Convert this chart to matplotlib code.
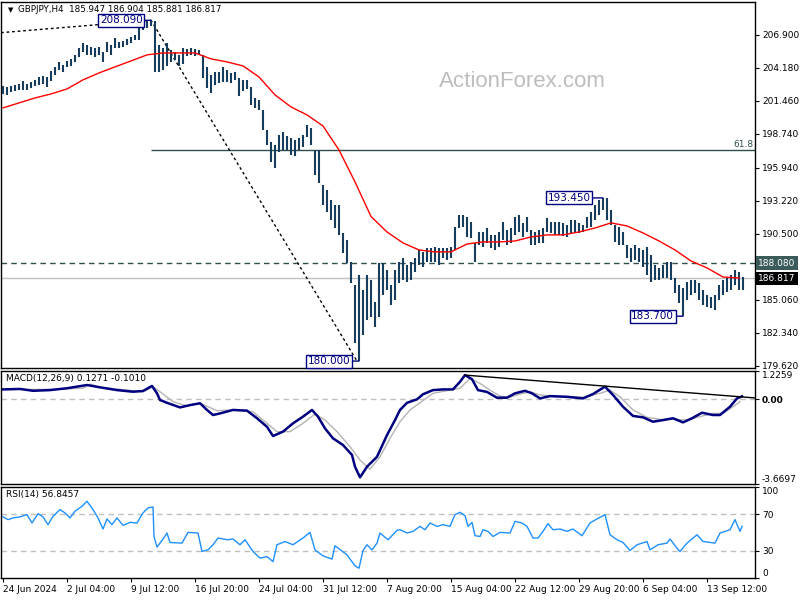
import numpy as np
import matplotlib.pyplot as plt
from matplotlib.transforms import blended_transform_factory

plt.rcParams['font.family'] = ['DejaVu Sans']

# H4 bars, every second bar (high / low)
highs = [202.68, 202.60, 202.68, 202.76, 202.85, 203.09, 202.85, 203.01, 203.18, 203.42,
         203.50, 203.42, 203.92, 204.25, 204.66, 204.41, 204.74, 204.91, 205.24, 205.81,
         206.22, 206.06, 205.90, 205.81, 205.90, 205.48, 206.31, 206.06, 206.64, 206.31,
         206.39, 206.55, 206.72, 206.88, 207.87, 207.96, 208.04, 208.09, 208.04, 206.06,
         205.81, 206.22, 205.65, 205.48, 205.24, 205.81, 205.73, 205.81, 205.73, 205.65,
         205.24, 204.25, 203.59, 203.83, 203.83, 204.25, 204.00, 203.75, 203.83, 203.34,
         203.18, 203.18, 202.60, 201.69, 201.53, 200.70, 199.05, 198.06, 197.82, 198.64,
         198.89, 198.56, 198.39, 198.23, 198.39, 198.64, 199.47, 199.22, 197.40, 197.40,
         194.52, 194.11, 193.28, 192.87, 192.87, 190.56, 189.98, 188.17, 186.27, 187.10,
         185.86, 187.10, 186.69, 184.87, 188.09, 188.09, 187.51, 186.27, 187.51, 188.17,
         188.50, 187.92, 188.17, 188.50, 189.16, 189.00, 189.33, 189.33, 189.41, 189.33,
         189.33, 189.33, 189.41, 191.06, 192.05, 192.05, 191.88, 191.47, 189.74, 190.64,
         190.64, 190.97, 190.40, 190.40, 190.64, 191.47, 190.81, 190.97, 191.88, 192.05,
         191.39, 191.88, 190.81, 190.64, 190.81, 190.97, 191.80, 191.47, 191.47, 191.47,
         191.39, 191.22, 191.63, 191.63, 191.39, 191.22, 191.88, 192.29, 192.87, 193.28,
         193.45, 193.45, 192.46, 191.22, 191.06, 190.64, 189.57, 189.33, 189.57, 189.33,
         189.16, 189.41, 188.75, 187.92, 187.68, 187.92, 188.17, 188.17, 186.85, 186.27,
         186.03, 186.52, 186.69, 186.69, 186.44, 185.86, 185.45, 185.29, 185.45, 186.27,
         186.69, 186.85, 187.10, 187.51, 187.35, 186.90]
lows = [202.02, 201.94, 202.19, 202.27, 202.35, 202.35, 202.35, 202.52, 202.68, 202.76,
        202.85, 202.60, 203.09, 203.59, 204.00, 203.83, 204.25, 204.33, 204.66, 205.07,
        205.48, 205.24, 205.24, 205.07, 205.24, 204.66, 205.48, 205.24, 205.81, 205.81,
        205.90, 206.06, 206.22, 206.47, 206.47, 207.30, 207.46, 207.63, 203.83, 203.83,
        204.00, 204.33, 204.66, 204.82, 204.33, 204.49, 205.15, 205.24, 205.15, 205.24,
        203.34, 202.52, 202.10, 202.76, 202.93, 203.01, 203.01, 202.93, 203.18, 201.86,
        202.27, 202.43, 201.11, 200.87, 200.70, 199.05, 197.82, 196.41, 195.92, 197.24,
        197.40, 197.40, 196.99, 196.91, 197.40, 197.65, 198.48, 197.82, 195.34, 194.68,
        192.87, 192.29, 191.63, 190.97, 190.40, 188.91, 188.09, 186.44, 181.49, 180.00,
        182.15, 183.39, 183.64, 182.81, 183.64, 185.45, 185.86, 184.63, 185.04, 186.44,
        186.69, 186.52, 186.69, 187.35, 187.92, 187.76, 188.17, 188.17, 188.17, 187.92,
        188.50, 188.34, 188.50, 189.16, 190.97, 191.06, 190.23, 190.15, 188.17, 189.57,
        189.41, 189.74, 189.33, 189.16, 189.41, 189.98, 189.57, 189.74, 190.40, 190.64,
        190.23, 190.64, 189.57, 189.57, 189.74, 189.74, 190.64, 190.56, 190.40, 190.40,
        190.31, 190.23, 190.56, 190.56, 190.56, 190.64, 190.97, 191.06, 191.63, 192.05,
        192.46, 191.63, 191.22, 189.82, 189.57, 189.57, 188.50, 188.17, 188.34, 188.17,
        187.76, 187.10, 186.52, 186.69, 186.69, 186.85, 186.85, 186.69, 185.61, 184.79,
        183.70, 185.04, 185.45, 185.61, 185.04, 184.63, 184.46, 184.38, 184.21, 185.04,
        185.45, 185.70, 185.86, 186.27, 185.86, 185.88]

# moving average, one value every 8 bars
ma = [200.87, 201.28, 201.69, 202.02, 202.43, 203.18, 203.75, 204.25, 204.74, 205.24,
      205.40, 205.40, 205.40, 204.91, 204.66, 204.33, 203.42, 201.94, 200.95, 200.29,
      199.38, 197.40, 194.77, 191.92, 190.64, 189.74, 189.16, 189.00, 189.00, 189.65,
      189.82, 189.82, 189.90, 190.23, 190.40, 190.40, 190.64, 190.97, 191.39, 191.14,
      190.56, 189.90, 189.16, 188.25, 187.68, 186.93, 186.85]

# swing points used for the dotted lines and the fibo level
swing_bars = [-1, 74, 177]
swing_prices = [207.07, 208.09, 180.00]
label_bars = [74, 178, 300, 340]
label_prices = [208.09, 180.00, 193.45, 183.70]
label_offsets = [-6, -6.5, -9, -6.5]
level_line = 188.08
last_price = 186.817

macd_bars = [0, 8.5, 15, 23.5, 32, 42, 48.5, 57, 65, 70, 74.5, 77, 78.5, 82, 88.5, 93.5, 98.5,
             102, 105, 108.5, 115, 122, 127, 132, 135, 140, 145, 150, 154.5, 157.5, 161, 165,
             170, 174.5, 176, 178.5, 182, 187, 192, 196, 198.5, 202, 207, 210, 215, 220, 225,
             228.5, 231, 234.5, 237.5, 242, 247, 252, 256, 261, 264.5, 268.5, 273.5, 282, 290,
             295, 301, 305, 310, 315, 320, 325, 330, 335, 340, 344.5, 349.5, 355, 358.5, 363.5,
             367, 369.5]
macd_main = [0.43, 0.45, 0.37, 0.40, 0.48, 0.62, 0.52, 0.40, 0.33, 0.36, 0.58, 0.26, -0.03,
             -0.15, -0.35, -0.25, -0.17, -0.46, -0.68, -0.61, -0.46, -0.49, -0.82, -1.19, -1.59,
             -1.40, -1.04, -0.75, -0.46, -0.75, -1.26, -1.69, -1.98, -2.41, -2.92, -3.38, -2.92,
             -2.49, -1.55, -0.90, -0.46, -0.15, 0.00, 0.22, 0.40, 0.43, 0.43, 0.76, 1.05, 0.87,
             0.40, 0.32, 0.07, 0.07, 0.26, 0.37, 0.26, 0.04, 0.14, 0.11, 0.04, 0.23, 0.55, 0.19,
             -0.32, -0.72, -0.78, -0.97, -0.90, -0.82, -1.00, -0.82, -0.58, -0.68, -0.68, -0.32,
             0.04, 0.13]
signal_bars = [0, 23.5, 40, 43.5, 48.5, 70, 75, 78.5, 85, 92, 98.5, 107, 115, 125, 132, 137,
               143.5, 150, 156, 161, 167, 173.5, 178.5, 183.5, 188.5, 193.5, 198.5, 203.5, 208.5,
               215, 223.5, 228.5, 233.5, 238.5, 243.5, 248.5, 253.5, 258.5, 263.5, 268.5, 278.5,
               290, 298.5, 303.5, 308.5, 315, 322, 328.5, 337, 342, 348.5, 355, 360, 365, 368.5]
macd_signal = [0.43, 0.43, 0.48, 0.66, 0.52, 0.33, 0.55, 0.33, -0.10, -0.29, -0.17, -0.49,
               -0.46, -0.54, -1.04, -1.40, -1.40, -1.04, -0.64, -0.90, -1.40, -2.05, -2.63,
               -3.03, -2.49, -1.69, -0.97, -0.46, -0.15, 0.26, 0.40, 0.48, 0.91, 0.69, 0.40,
               0.14, 0.09, 0.23, 0.33, 0.19, 0.11, 0.09, 0.26, 0.40, 0.11, -0.46, -0.78, -0.87,
               -0.87, -0.90, -0.75, -0.61, -0.61, -0.32, -0.10]
macd_trend_bars = [231, 376]
macd_trend_vals = [1.05, 0.06]

rsi_bars = [0, 2.5, 5, 8.5, 12, 14.5, 17.5, 20, 22.5, 25, 28.5, 31, 33.5, 36, 39.5, 42, 45, 47.5,
            50, 52, 54.5, 57, 60, 63.5, 67, 70, 72.5, 75, 75.5, 77, 80, 82, 83.5, 89.5, 92.5,
            97.5, 99.5, 102.5, 105, 107.5, 112, 115, 118.5, 121, 125, 128.5, 132, 135, 137, 141,
            145, 150, 153.5, 156, 160, 164.5, 166, 172, 176, 178, 180, 182, 184.5, 187, 188.5,
            192.5, 197, 198.5, 202, 205, 208.5, 211, 213.5, 217, 220, 223.5, 226, 228.5, 231,
            232.5, 234.5, 236, 238.5, 240, 242.5, 245, 248.5, 253.5, 256, 259.5, 262, 265, 267.5,
            270, 272.5, 275, 278.5, 282, 285, 289.5, 293.5, 297, 299.5, 301, 303.5, 307, 310,
            313.5, 317, 322, 323.5, 327.5, 332, 333.5, 337, 338.5, 342, 347, 350, 356, 358.5,
            363.5, 366, 368.5, 369.5]
rsi = [67.1, 64.1, 66.0, 67.1, 69.6, 60.4, 70.7, 67.1, 58.6, 67.7,
       75.1, 71.5, 66.0, 73.3, 78.8, 84.3, 75.1, 66.0, 53.8, 64.9,
       58.6, 66.0, 57.8, 61.1, 60.4, 71.5, 77.0, 78.1, 45.6, 33.9,
       42.8, 49.4, 39.0, 38.3, 50.1, 49.4, 29.1, 30.9, 36.5, 43.9,
       42.0, 42.8, 36.5, 42.0, 29.1, 21.8, 23.5, 18.0, 36.5, 40.1,
       36.5, 43.9, 50.1, 30.9, 24.3, 20.7, 35.4, 25.4, 13.3, 10.7,
       30.2, 36.5, 30.9, 38.3, 49.4, 42.0, 52.3, 53.0, 49.4, 51.2,
       56.7, 53.0, 60.4, 56.7, 58.6, 56.7, 69.6, 72.2, 68.5, 56.7,
       61.1, 46.4, 45.6, 53.0, 51.2, 45.6, 50.1, 49.4, 62.2, 60.4,
       56.7, 43.9, 43.9, 51.2, 59.7, 53.0, 53.8, 51.2, 53.8, 46.4,
       60.4, 64.9, 67.7, 69.6, 47.5, 42.0, 39.0, 30.2, 36.5, 40.1,
       30.9, 36.5, 38.3, 42.8, 32.8, 29.1, 38.3, 47.5, 40.1, 38.3,
       49.4, 53.0, 64.1, 51.2, 56.8]

price_ticks = [206.900, 204.180, 201.460, 198.740, 195.940, 193.220, 190.500, 187.780,
               185.060, 182.340, 179.620]
date_labels = ["24 Jun 2024", "2 Jul 04:00", "9 Jul 12:00", "16 Jul 20:00", "24 Jul 04:00",
               "31 Jul 12:00", "7 Aug 20:00", "15 Aug 04:00", "22 Aug 12:00", "29 Aug 20:00",
               "6 Sep 04:00", "13 Sep 12:00"]

navy = '#000080'
slate = '#2f4f4f'
fs = 6.5

fig = plt.figure(figsize=(8, 6), dpi=100)
ax = fig.add_axes([0.00125, 0.3867, 0.9425, 0.61])
ax_macd = fig.add_axes([0.00125, 0.1933, 0.9425, 0.1883])
ax_rsi = fig.add_axes([0.00125, 0.0367, 0.9425, 0.1517])

for a in (ax, ax_macd, ax_rsi):
    a.set_xlim(-1, 376)
    a.yaxis.tick_right()
    a.tick_params(axis='y', labelsize=fs, length=3, width=0.8, pad=2)
    a.tick_params(axis='x', length=0, labelbottom=False)
    for s in a.spines.values():
        s.set_linewidth(1)

# price panel
bar_x = np.arange(len(highs)) * 2
ax.vlines(bar_x, lows, highs, color='#173c5c', lw=1.5, zorder=3)
ax.plot(np.arange(len(ma)) * 8, ma, color='red', lw=1, zorder=4)
ax.set_ylim(179.43, 209.60)
ax.set_yticks(price_ticks)
# 187.780 sits under the two price flags on the reference, so its text is left out
ax.set_yticklabels(['' if abs(v - 187.78) < 0.01 else '%.3f' % v for v in price_ticks])

fib = swing_prices[2] + 0.618 * (swing_prices[1] - swing_prices[2])
ax.hlines(fib, swing_bars[1], 376, color=slate, lw=1)
ax.text(375, fib + 0.12, '61.8', ha='right', va='bottom', fontsize=fs, color=slate)
ax.axhline(level_line, color=slate, lw=1, ls=(0, (4, 3)))
ax.axhline(last_price, color='#c0c0c0', lw=1)
ax.plot(swing_bars, swing_prices, color='black', lw=1, ls=(0, (2, 2)), zorder=2)

for b, p, off in zip(label_bars, label_prices, label_offsets):
    ax.annotate('%.3f' % p, xy=(b, p), xytext=(off, 0), textcoords='offset points',
                ha='right', va='center', fontsize=7.5, color=navy, zorder=6,
                bbox=dict(boxstyle='square,pad=0.15', fc='white', ec=navy, lw=1),
                arrowprops=dict(arrowstyle='-', color=navy, lw=1, shrinkA=0, shrinkB=0))

tr = blended_transform_factory(ax.transAxes, ax.transData)
ax.text(1.004, level_line, '%.3f' % level_line, transform=tr, ha='left', va='center',
        fontsize=fs, color='white', clip_on=False, zorder=10,
        bbox=dict(boxstyle='square,pad=0.25', fc='#3b5b5b', ec='none'))
ax.text(1.004, last_price, '%.3f' % last_price, transform=tr, ha='left', va='center',
        fontsize=fs, color='white', clip_on=False, zorder=10,
        bbox=dict(boxstyle='square,pad=0.25', fc='black', ec='none'))

ax.text(0.6917, 0.784, 'ActionForex.com', transform=ax.transAxes, ha='center', va='center',
        fontsize=16, color='#bdbdbd', family='Liberation Sans')

fig.text(8 / 800, 1 - 10 / 600, '\u25bc', fontsize=5, va='center', ha='left')
fig.text(18 / 800, 1 - 10 / 600, 'GBPJPY,H4  185.947 186.904 185.881 186.817',
         fontsize=6.3, va='center', ha='left')

# MACD panel
ax_macd.set_ylim(-3.6697, 1.2259)
ax_macd.axhline(0, color='#c0c0c0', lw=1, ls=(0, (4, 3)))
ax_macd.plot(signal_bars, macd_signal, color='#b4b4b4', lw=1)
ax_macd.plot(macd_bars, macd_main, color=navy, lw=1.8)
ax_macd.plot(macd_trend_bars, macd_trend_vals, color='black', lw=1)
ax_macd.set_yticks([1.2259, 0.0, -3.6697])
ax_macd.set_yticklabels(['1.2259', '0.00', '-3.6697'])
tl = ax_macd.get_yticklabels()
tl[0].set_va('top')
tl[1].set_fontweight('bold')
tl[2].set_va('bottom')
fig.text(6 / 800, 1 - 379 / 600, 'MACD(12,26,9) 0.1271 -0.1010', fontsize=fs, va='center')

# RSI panel
ax_rsi.set_ylim(0, 100)
ax_rsi.axhline(70, color='#c0c0c0', lw=1, ls=(0, (4, 3)))
ax_rsi.axhline(30, color='#c0c0c0', lw=1, ls=(0, (4, 3)))
ax_rsi.plot(rsi_bars, rsi, color='#1e90ff', lw=1)
ax_rsi.set_yticks([100, 70, 30, 0])
ax_rsi.set_yticklabels(['100', '70', '30', '0'])
tl = ax_rsi.get_yticklabels()
tl[0].set_va('top')
tl[3].set_va('bottom')
fig.text(6 / 800, 1 - 495 / 600, 'RSI(14) 56.8457', fontsize=fs, va='center')

ax_rsi.set_xticks(np.arange(len(date_labels)) * 32)
ax_rsi.set_xticklabels(date_labels)
ax_rsi.tick_params(axis='x', length=3, width=0.8, labelbottom=True, labelsize=fs, pad=2)
for t in ax_rsi.get_xticklabels():
    t.set_ha('left')

fig.savefig('out.png', dpi=100)
